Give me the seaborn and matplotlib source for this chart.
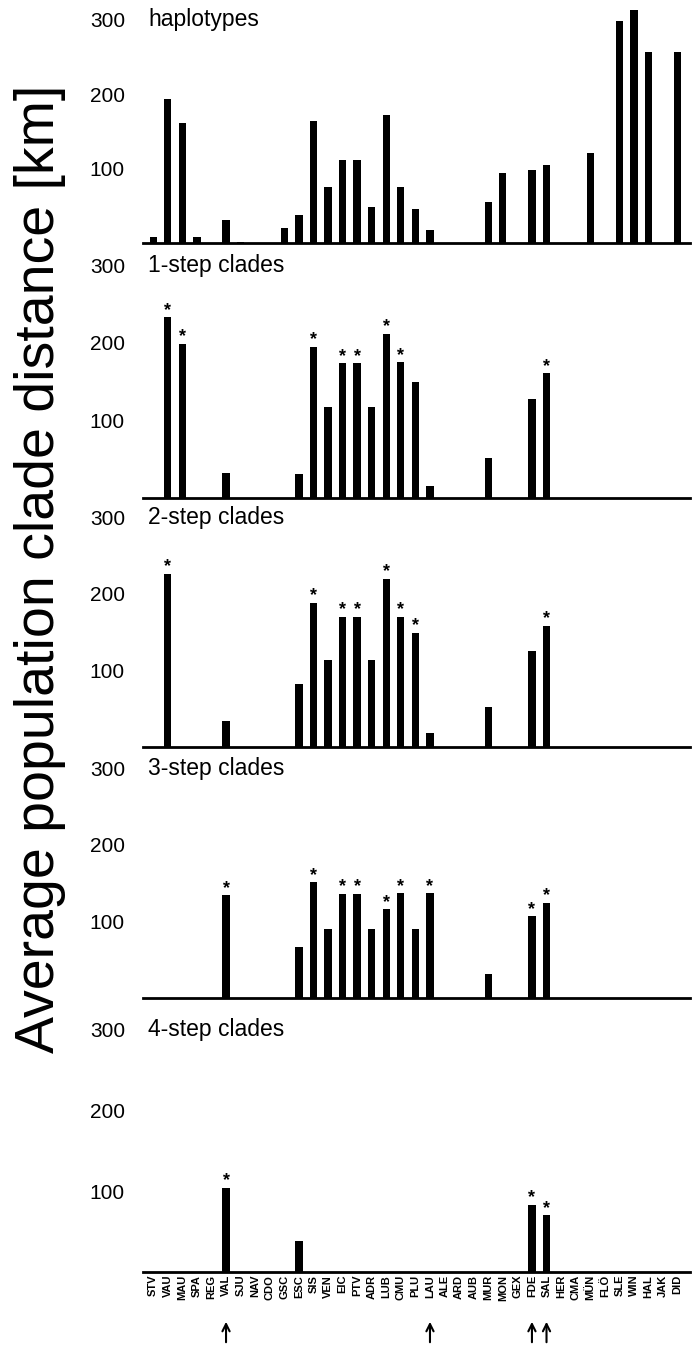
import pandas as pd
import matplotlib.pyplot as plt
import seaborn as sns

# Sites along the x axis
sites = ['STV', 'VAU', 'MAU', 'SPA', 'REG', 'VAL', 'SJU', 'NAV', 'CDO', 'GSC',
         'ESC', 'SIS', 'VEN', 'EIC', 'PTV', 'ADR', 'LUB', 'CMU', 'PLU', 'LAU',
         'ALE', 'ARD', 'AUB', 'MUR', 'MON', 'GEX', 'FDE', 'SAL', 'HER', 'CMA',
         'MÜN', 'FLÖ', 'SLE', 'WIN', 'HAL', 'JAK', 'DID']

# Average population clade distance (km), 0 = no bar
haplotypes = [8, 193, 162, 8, 0, 31, 2, 0, 0, 20,
              38, 164, 75, 112, 112, 48, 172, 75, 46, 17,
              0, 0, 0, 55, 94, 0, 98, 105, 0, 0,
              121, 0, 298, 313, 257, 0, 257]
step1 = [0, 233, 199, 0, 0, 32, 0, 0, 0, 0,
         31, 195, 117, 174, 174, 117, 212, 175, 150, 15,
         0, 0, 0, 52, 0, 0, 128, 161, 0, 0,
         0, 0, 0, 0, 0, 0, 0]
step2 = [0, 226, 0, 0, 0, 34, 0, 0, 0, 0,
         82, 188, 113, 170, 170, 113, 220, 170, 149, 18,
         0, 0, 0, 52, 0, 0, 125, 158, 0, 0,
         0, 0, 0, 0, 0, 0, 0]
step3 = [0, 0, 0, 0, 0, 134, 0, 0, 0, 0,
         66, 151, 90, 136, 136, 90, 116, 137, 90, 137,
         0, 0, 0, 31, 0, 0, 107, 124, 0, 0,
         0, 0, 0, 0, 0, 0, 0]
step4 = [0, 0, 0, 0, 0, 104, 0, 0, 0, 0,
         38, 0, 0, 0, 0, 0, 0, 0, 0, 0,
         0, 0, 0, 0, 0, 0, 83, 70, 0, 0,
         0, 0, 0, 0, 0, 0, 0]

# Significant values (asterisks)
stars1 = ['VAU', 'MAU', 'SIS', 'EIC', 'PTV', 'LUB', 'CMU', 'SAL']
stars2 = ['VAU', 'SIS', 'EIC', 'PTV', 'LUB', 'CMU', 'PLU', 'SAL']
stars3 = ['VAL', 'SIS', 'EIC', 'PTV', 'LUB', 'CMU', 'LAU', 'FDE', 'SAL']
stars4 = ['VAL', 'FDE', 'SAL']

arrow_sites = ['VAL', 'LAU', 'FDE', 'SAL']

panels = [
    ('haplotypes', haplotypes, []),
    ('1-step clades', step1, stars1),
    ('2-step clades', step2, stars2),
    ('3-step clades', step3, stars3),
    ('4-step clades', step4, stars4),
]

sns.set_style('white')
plt.rcParams['font.family'] = ['Liberation Sans', 'DejaVu Sans']
plt.rcParams['text.color'] = 'black'
plt.rcParams['xtick.color'] = 'black'
plt.rcParams['ytick.color'] = 'black'

W, H = 697, 1346
fig = plt.figure(figsize=(W / 100, H / 100), dpi=100)

# panel layout in pixels: (baseline y, height) measured from top
layout = [(243, 238), (498, 248), (747, 245), (998, 245), (1272, 259)]
left_px, right_px = 143, 690

axes = []
for (title, vals, stars), (base, hgt) in zip(panels, layout):
    ax = fig.add_axes([left_px / W, (H - base) / H,
                       (right_px - left_px) / W, hgt / H])
    df = pd.DataFrame({'site': sites, 'dist': vals})
    sns.barplot(data=df, x='site', y='dist', order=sites, color='black',
                width=0.5, errorbar=None, linewidth=0, saturation=1, ax=ax)
    ax.set_xlim(-0.7, 36.85)
    ax.set_ylim(0, 320)
    ax.set_yticks([100, 200, 300])
    ax.set_yticklabels(['100', '200', '300'], fontsize=15)
    ax.tick_params(axis='y', length=0, pad=13)
    ax.set_xlabel('')
    ax.set_ylabel('')
    for s in ['top', 'right', 'left']:
        ax.spines[s].set_visible(False)
    ax.spines['bottom'].set_linewidth(2)
    ax.spines['bottom'].set_color('black')
    ax.text(0.01, 300, title, transform=ax.get_yaxis_transform(),
            fontsize=16.5, va='center', ha='left')
    for s in stars:
        i = sites.index(s)
        ax.text(i, vals[i] - 2, '*', ha='center', va='bottom', fontsize=13,
                fontweight='bold')
    axes.append(ax)

for ax in axes[:-1]:
    ax.set_xticklabels([])
    ax.tick_params(axis='x', length=0)

bottom = axes[-1]
bottom.set_xticks(range(len(sites)))
bottom.set_xticklabels(sites, rotation=90, fontsize=8, fontweight='bold')
bottom.tick_params(axis='x', length=0, pad=2)

for s in arrow_sites:
    i = sites.index(s)
    bottom.annotate('', xy=(i, 1 - 1319 / H), xytext=(i, 1 - 1345 / H),
                    xycoords=('data', 'figure fraction'),
                    textcoords=('data', 'figure fraction'),
                    arrowprops=dict(arrowstyle='->', lw=1.5, color='black',
                                    mutation_scale=13))

fig.text(40 / W, 1 - 569 / H, 'Average population clade distance [km]',
         rotation=90, fontsize=40, ha='center', va='center')

fig.savefig('out.png', dpi=100)
